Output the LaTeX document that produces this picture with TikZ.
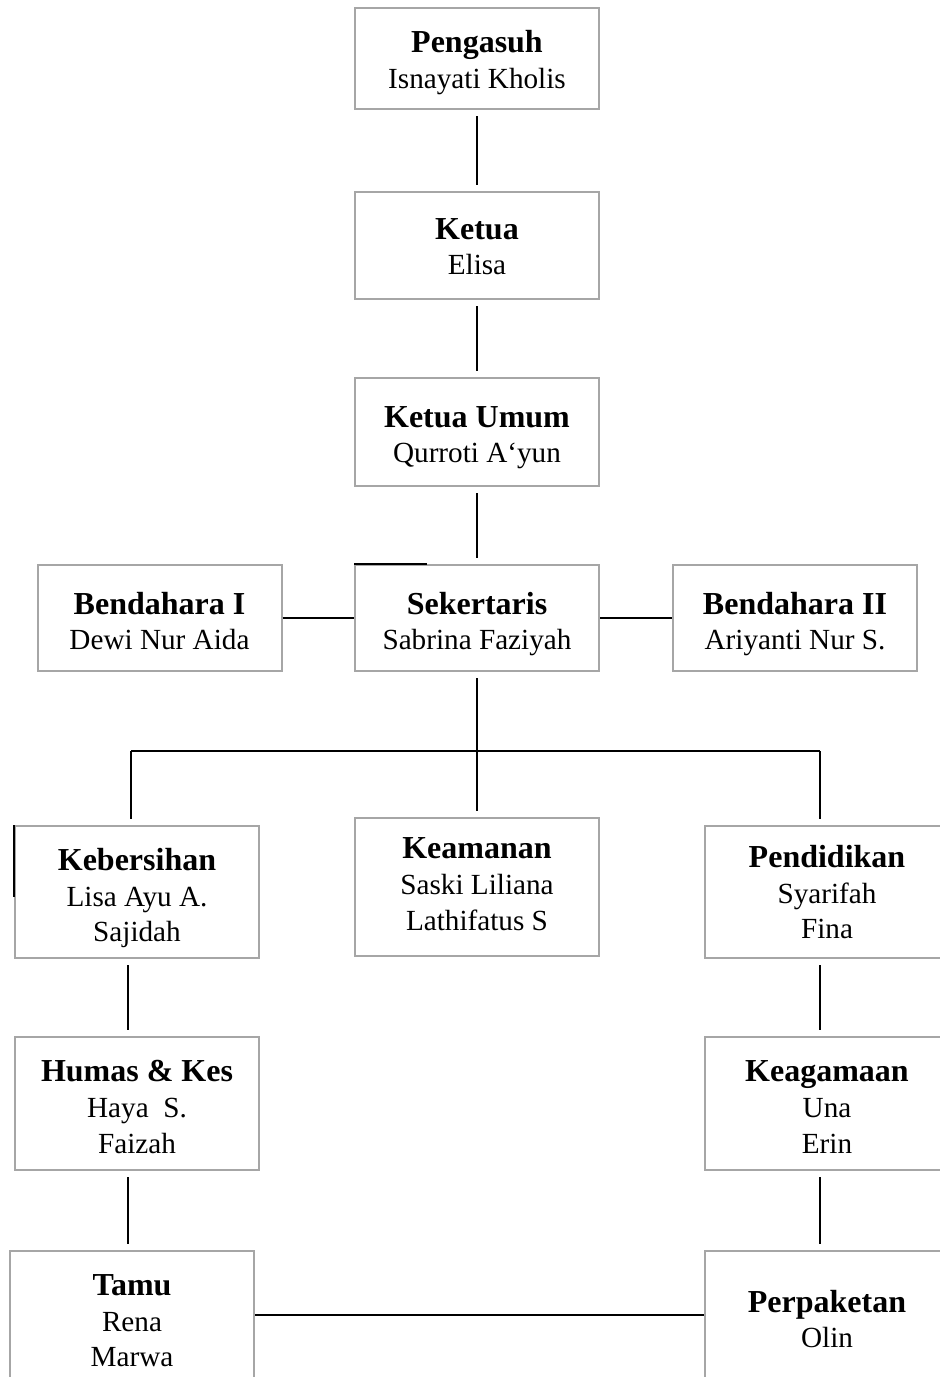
\documentclass[tikz,border=0pt]{standalone}
\usepackage{fontspec}
\setmainfont{Liberation Serif}
\definecolor{boxgray}{HTML}{A6A6A6}
\newcommand{\judul}[1]{{\fontsize{16}{18}\selectfont\bfseries\rule{0pt}{18pt}#1}}
\tikzset{
  jabatan/.style={draw=boxgray, line width=1pt, minimum width=122pt, align=center,
    inner sep=0pt, font=\fontsize{14.6}{17.8}\selectfont,
    execute at end node={\rule[-#1]{0pt}{#1}}},
  jabatan/.default=4pt,
  garis/.style={line width=0.7pt, shorten >=3pt, shorten <=3pt},
  hline/.style={line width=0.7pt},
}
\begin{document}
\begin{tikzpicture}[x=0.5pt,y=-0.5pt]
  \useasboundingbox (0,0) rectangle (939,1377);
  % pimpinan
  \node[jabatan=6pt, minimum height=50.5pt] (pengasuh) at (477,58.5) {\judul{Pengasuh}\\Isnayati Kholis};
  \node[jabatan=6.5pt, minimum height=53.5pt] (ketua) at (477,245.5) {\judul{Ketua}\\Elisa};
  \node[jabatan=5pt, minimum height=54pt] (ketuaumum) at (477,432) {\judul{Ketua Umum}\\Qurroti A`yun};
  \node[jabatan, minimum height=53pt] (bendahara1) at (159.5,618) {\judul{Bendahara I}\\Dewi Nur Aida};
  \node[jabatan, minimum height=53pt] (sekertaris) at (477,618) {\judul{Sekertaris}\\Sabrina Faziyah};
  \node[jabatan, minimum height=53pt] (bendahara2) at (795,618) {\judul{Bendahara II}\\Ariyanti Nur S.};
  % seksi
  \node[jabatan, minimum height=66pt] (kebersihan) at (137,892) {\judul{Kebersihan}\\Lisa Ayu A.\\Sajidah};
  \node[jabatan=10.5pt, minimum height=69pt] (keamanan) at (477,887) {\judul{Keamanan}\\Saski Liliana\\Lathifatus S};
  \node[jabatan=7pt, minimum height=66pt] (pendidikan) at (827,892) {\judul{Pendidikan}\\Syarifah\\Fina};
  \node[jabatan, minimum height=66.5pt] (humas) at (137,1103.5) {\judul{Humas \& Kes}\\Haya~~S.\\Faizah};
  \node[jabatan, minimum height=66.5pt] (keagamaan) at (827,1103.5) {\judul{Keagamaan}\\Una\\Erin};
  \node[jabatan, minimum height=66pt] (tamu) at (132,1317) {\judul{Tamu}\\Rena\\Marwa};
  \node[jabatan=8pt, minimum height=69pt] (perpaketan) at (827,1320) {\judul{Perpaketan}\\Olin};
  % garis
  \draw[garis] (pengasuh) -- (ketua);
  \draw[garis] (ketua) -- (ketuaumum);
  \draw[garis] (ketuaumum) -- (sekertaris);
  \draw[hline] (bendahara1) -- (sekertaris);
  \draw[hline] (sekertaris) -- (bendahara2);
  \draw[hline] (sekertaris.north west) -- ++(73,0);
  \draw[garis] (sekertaris) -- (keamanan);
  \coordinate (cabangL) at (131,751);
  \coordinate (cabangR) at (820,751);
  \draw[hline] (cabangL) -- (cabangR);
  \draw[garis, shorten <=0pt] (cabangL) -- (cabangL |- kebersihan.north);
  \draw[garis, shorten <=0pt] (cabangR) -- (cabangR |- pendidikan.north);
  \draw[hline] (kebersihan.north west) -- ++(0,72);
  \draw[garis] ([xshift=-4.5pt]kebersihan.south) -- ([xshift=-4.5pt]humas.north);
  \draw[garis] ([xshift=-4.5pt]humas.south) -- ([xshift=-2pt]tamu.north);
  \draw[garis] ([xshift=-3.5pt]pendidikan.south) -- ([xshift=-3.5pt]keagamaan.north);
  \draw[garis] ([xshift=-3.5pt]keagamaan.south) -- ([xshift=-3.5pt]perpaketan.north);
  \draw[hline] ([yshift=1pt]tamu.east) -- ([yshift=1pt]tamu.east -| perpaketan.west);
\end{tikzpicture}
\end{document}
